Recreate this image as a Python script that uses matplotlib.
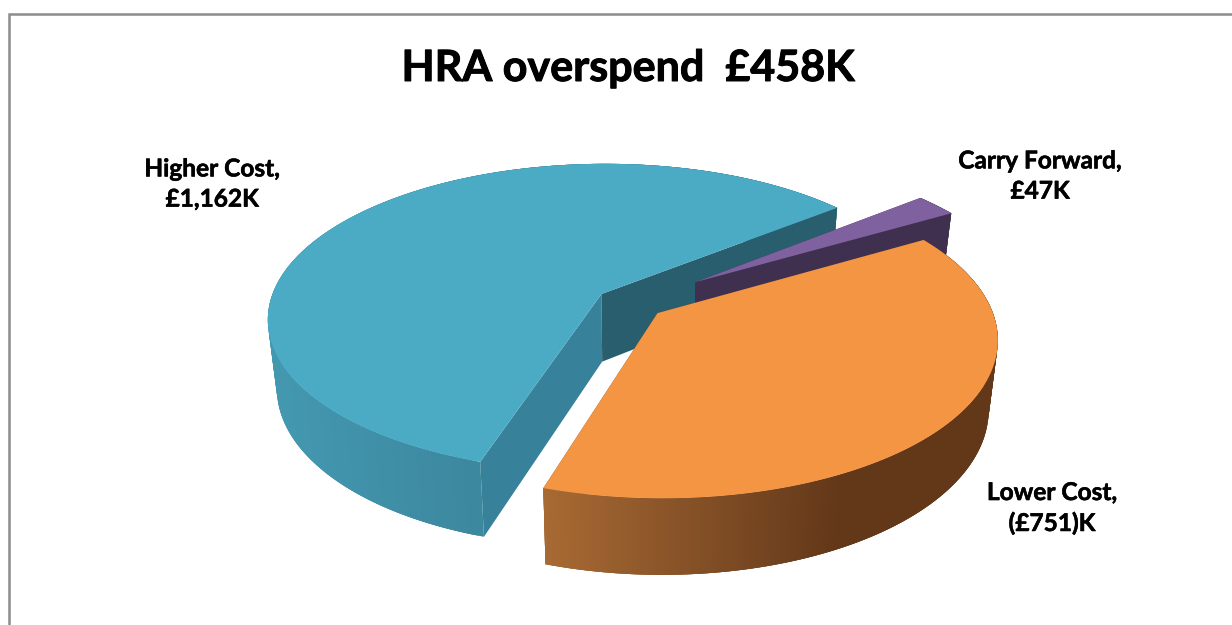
import numpy as np
import matplotlib
matplotlib.use("Agg")
import matplotlib.pyplot as plt
import matplotlib.patheffects as pe
from matplotlib.patches import Polygon
from matplotlib.colors import to_rgb

TITLE = "HRA overspend  £458K"
categories = ["Carry Forward", "Lower Cost", "Higher Cost"]
values = [47, 751, 1162]
value_labels = ["£47K", "(£751)K", "£1,162K"]
explode = [0.245, 0.105, 0.105]

top_colors = ["#8061a0", "#f49544", "#4babc5"]
wall_left = ["#4a3660", "#a86a34", "#4398b0"]
wall_right = ["#3f3050", "#633819", "#367a90"]
cut_first = ["#3f304f", "#7a4a20", "#38819a"]
cut_last = ["#3f304f", "#7a4a20", "#285e6d"]
cuts_face_viewer = [True, False, True]

W, H = 1232, 625
CX, CY = 630, 303          # pie centre on the canvas
RX, RY = 332, 153          # plane-to-canvas scale
PERSP = 0.155              # foreshortening towards the back
DEPTH = 68                 # thickness of the pie
TAPER = 0.975              # lower rim is drawn slightly narrower
START = 39.0               # degrees, first slice begins here and runs clockwise


def project(u, v, lower=False):
    s = 1.0 / (1.0 + PERSP * v)
    x = RX * u * s
    y = -RY * v * s
    if lower:
        return CX + x * TAPER, CY + y * TAPER + DEPTH * s
    return CX + x, CY + y


def slice_outline(a0, a1, off):
    th = np.radians(np.linspace(a0, a1, 240))
    return np.cos(th) + off[0], np.sin(th) + off[1]


fig = plt.figure(figsize=(W / 100, H / 100), dpi=100, facecolor="white")
ax = fig.add_axes([0, 0, 1, 1])
ax.set_xlim(0, W)
ax.set_ylim(H, 0)
ax.axis("off")

# chart frame, open on the right and at the bottom
ax.plot([9, 9, W], [H, 14, 14], color="#8c8c8c", lw=1.8, solid_joinstyle="miter", zorder=1)

angles = START - np.concatenate([[0], np.cumsum(values)]) / np.sum(values) * 360.0


def draw_slice(i, z):
    a0, a1 = angles[i], angles[i + 1]
    mid = np.radians((a0 + a1) / 2)
    off = (explode[i] * np.cos(mid), explode[i] * np.sin(mid))
    us, vs = slice_outline(a0, a1, off)
    tx, ty = project(us, vs)
    bx, by = project(us, vs, lower=True)
    ax_, ay_ = project(off[0], off[1])
    lx, ly = project(off[0], off[1], lower=True)

    # flat cut faces go over the wall only where the viewer can see them
    cut_z = z + 0.4 if cuts_face_viewer[i] else z
    ax.add_patch(Polygon([(ax_, ay_), (tx[0], ty[0]), (bx[0], by[0]), (lx, ly)],
                         fc=cut_first[i], ec="none", zorder=cut_z))
    ax.add_patch(Polygon([(ax_, ay_), (tx[-1], ty[-1]), (bx[-1], by[-1]), (lx, ly)],
                         fc=cut_last[i], ec="none", zorder=cut_z + 0.01))

    # curved outer wall, shaded from left to right; strips overlap to hide seams
    x_lo, x_hi = bx.min(), bx.max()
    left, right = np.array(to_rgb(wall_left[i])), np.array(to_rgb(wall_right[i]))
    n = len(tx)
    for j in range(n - 1):
        k = min(j + 3, n - 1)
        t = np.clip((tx[j] - x_lo) / (x_hi - x_lo), 0, 1)
        c = left + (right - left) * min(t * 1.5, 1)
        ax.add_patch(Polygon([(tx[j], ty[j]), (tx[k], ty[k]), (bx[k], by[k]), (bx[j], by[j])],
                             fc=c, ec="none", zorder=z + 0.1 + j * 1e-4))

    # top face
    ax.add_patch(Polygon(np.column_stack([np.r_[ax_, tx], np.r_[ay_, ty]]),
                         fc=top_colors[i], ec="none", zorder=z + 0.5))


# back-to-front: blue, purple, orange
draw_slice(2, 2)
draw_slice(0, 3)
draw_slice(1, 4)

FONT = "Lato"
ax.text(628, 68, TITLE, ha="center", va="center", fontsize=31, fontweight="bold",
        family=FONT, color="black",
        path_effects=[pe.withStroke(linewidth=0.7, foreground="black")])
label_pos = [(1040, 176), (1052, 508), (212, 184)]
for name, val, (x, y) in zip(categories, value_labels, label_pos):
    ax.text(x, y, f"{name},\n{val}", ha="center", va="center", fontsize=17.6,
            fontweight="bold", family=FONT, color="black", linespacing=1.38,
            path_effects=[pe.withStroke(linewidth=0.4, foreground="black")])

fig.savefig("out.png", dpi=100, facecolor="white")
